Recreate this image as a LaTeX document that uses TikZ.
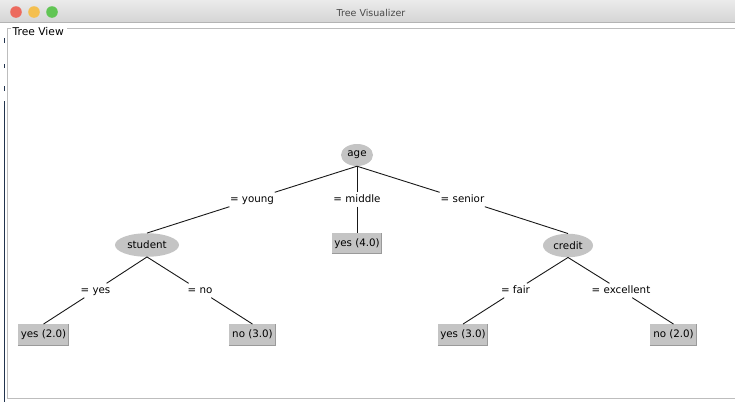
\documentclass[tikz,border=0pt]{standalone}
\usepackage{fontspec}
\setmainfont{DejaVu Sans}
\usetikzlibrary{shapes.geometric}

\definecolor{nodegray}{HTML}{C4C4C4}
\definecolor{boxedge}{HTML}{9A9A9A}
\definecolor{panelline}{HTML}{BDBDBD}
\definecolor{bartop}{HTML}{EBEBEB}
\definecolor{barbot}{HTML}{D5D5D5}
\definecolor{barline}{HTML}{B4B4B4}
\definecolor{titletext}{HTML}{4A4A4A}
\definecolor{lightred}{HTML}{EC6A5E}
\definecolor{lightyellow}{HTML}{F4BF4F}
\definecolor{lightgreen}{HTML}{61C554}
\definecolor{edgedark}{HTML}{22344E}

\tikzset{
  split/.style={ellipse, fill=nodegray, inner sep=0pt, font=\fontsize{10.3}{12}\selectfont},
  leaf/.style={rectangle, fill=nodegray, inner sep=0pt, minimum height=21.5pt,
               font=\fontsize{10.3}{12}\selectfont, text height=7.6pt, text depth=2.4pt},
  branch/.style={rectangle, inner xsep=2.5pt, inner ysep=0pt, fill=white,
                 font=\fontsize{10.3}{12}\selectfont, text height=10pt, text depth=4pt},
  link/.style={line width=0.9pt, black!90},
}

% bevelled leaf box: fill plus a darker lower and right rim
\newcommand{\leafrim}[1]{%
  \draw[boxedge, line width=1pt] ([yshift=0.5pt]#1.south west) -- ([xshift=-0.5pt,yshift=0.5pt]#1.south east)
        -- ([xshift=-0.5pt]#1.north east);}

\begin{document}
\begin{tikzpicture}[x=1pt, y=-1pt]
  \useasboundingbox (0,0) rectangle (735,402);
  \fill[white] (0,0) rectangle (735,402);

  % window title bar
  \shade[top color=bartop, bottom color=barbot] (0,0) rectangle (735,22);
  \draw[barline, line width=0.8pt] (0,22) -- (735,22);
  \fill[lightred]    (16,12) circle (5.8);
  \fill[lightyellow] (34,12) circle (5.8);
  \fill[lightgreen]  (52,12) circle (5.8);
  \node[titletext, font=\fontsize{9.5}{11}\selectfont] (title) at (371,12.5) {Tree Visualizer};

  % window edge on the left
  \draw[edgedark, line width=1pt] (4,101) -- (4,402);
  \foreach \ya/\yb in {38/43, 64/68, 86/91}
    \draw[edgedark, line width=1pt] (4,\ya) -- (4,\yb);

  % titled panel border
  \draw[panelline, line width=0.9pt] (67,28.5) -- (735,28.5);
  \draw[panelline, line width=0.9pt] (11,28.5) -- (7.5,28.5) -- (7.5,398) -- (735,398);
  \node[anchor=base west, inner sep=0pt, font=\fontsize{10.7}{12}\selectfont] (panel) at (12.5,35) {Tree View};

  % split nodes
  \node[split, minimum width=32pt, minimum height=22pt] (age) at (357,155) {age};
  \node[split, minimum width=64pt, minimum height=23.5pt] (student) at (147,245) {student};
  \node[split, minimum width=50pt, minimum height=23.5pt] (credit) at (568,245.5) {credit};

  % leaves
  \node[leaf, minimum width=50pt] (mid) at (357,243.5) {yes (4.0)};
  \node[leaf, minimum width=51pt] (ya) at (43.5,335) {yes (2.0)};
  \node[leaf, minimum width=47pt] (na) at (252.5,335) {no (3.0)};
  \node[leaf, minimum width=50pt] (yb) at (463,335) {yes (3.0)};
  \node[leaf, minimum width=47pt] (nb) at (673.5,335) {no (2.0)};
  \foreach \n in {mid,ya,na,yb,nb} {\leafrim{\n}}

  % branch labels, halfway along each link
  \node[branch] (lyoung)  at (252,199.5) {= young};
  \node[branch] (lmiddle) at (357,199.5) {= middle};
  \node[branch] (lsenior) at (462.5,199.5) {= senior};
  \node[branch] (lyes)    at (95.5,290.5) {= yes};
  \node[branch] (lno)     at (200,290.5) {= no};
  \node[branch] (lfair)   at (515.5,290.5) {= fair};
  \node[branch] (lexc)    at (621,290.5) {= excellent};

  % links
  \draw[link] (age.south) -- (lyoung);   \draw[link] (lyoung) -- (student.north);
  \draw[link] (age.south) -- (lmiddle);  \draw[link] (lmiddle) -- (mid.north);
  \draw[link] (age.south) -- (lsenior);  \draw[link] (lsenior) -- (credit.north);
  \draw[link] (student.south) -- (lyes); \draw[link] (lyes) -- (ya.north);
  \draw[link] (student.south) -- (lno);  \draw[link] (lno) -- (na.north);
  \draw[link] (credit.south) -- (lfair); \draw[link] (lfair) -- (yb.north);
  \draw[link] (credit.south) -- (lexc);  \draw[link] (lexc) -- (nb.north);
\end{tikzpicture}
\end{document}
